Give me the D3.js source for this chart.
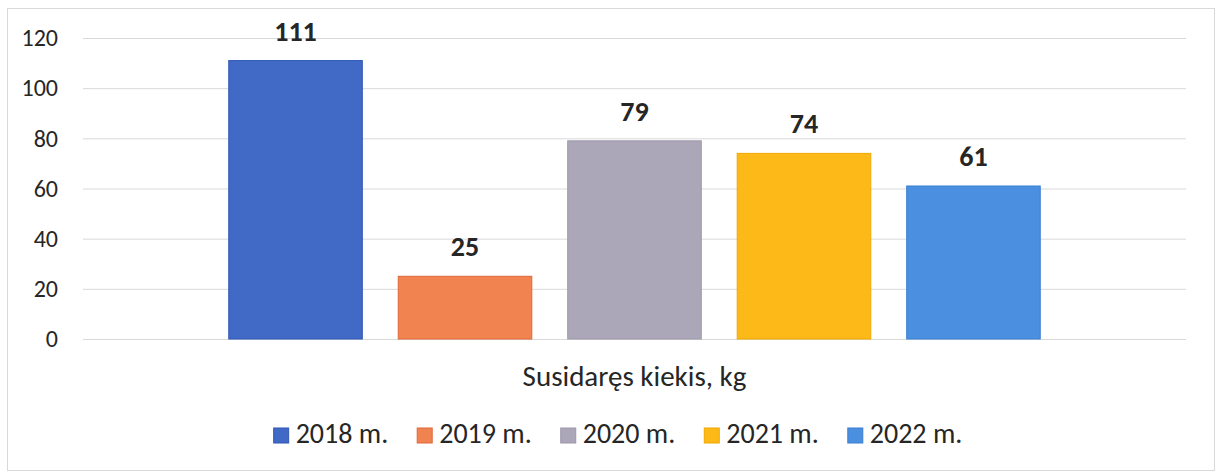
<!DOCTYPE html>
<meta charset="utf-8">
<script src="https://d3js.org/d3.v7.min.js"></script>
<style>
  body { margin: 0; background: #fff; }
  text { font-family: Carlito, Calibri, Lato, sans-serif; fill: #262626; }
</style>
<div id="my_dataviz"></div>
<script>

// data
var categories = ["Susidaręs kiekis, kg"];
var years = ["2018 m.", "2019 m.", "2020 m.", "2021 m.", "2022 m."];
var values = [111, 25, 79, 74, 61];
var yTicks = [0, 20, 40, 60, 80, 100, 120];
var colors = ["#4169c6", "#f0834f", "#aca7b8", "#fdb918", "#4a8fe0"];
var strokes = ["#2f57b5", "#e0673a", "#9c97aa", "#f0a800", "#3b7fd2"];

var W = 1219, H = 473;
var plot = {left: 83, right: 1186, top: 38, bottom: 339};

var svg = d3.select("#my_dataviz")
  .append("svg")
    .attr("width", W)
    .attr("height", H);

// chart border
svg.append("rect")
  .attr("x", 7.5).attr("y", 8.5)
  .attr("width", 1207).attr("height", 462)
  .attr("fill", "#fff")
  .attr("stroke", "#d9d9d9");

// scales
var y = d3.scaleLinear()
  .domain([0, 120])
  .range([plot.bottom, plot.top]);

var x0 = d3.scaleBand()
  .domain(categories)
  .range([plot.left, plot.right]);

var x1 = d3.scaleBand()
  .domain(years)
  .range([0, x0.bandwidth()])
  .paddingInner(0.212)
  .paddingOuter(0.86);

var color = d3.scaleOrdinal().domain(years).range(colors);
var stroke = d3.scaleOrdinal().domain(years).range(strokes);

// gridlines + y labels
var yAxis = svg.append("g")
  .attr("transform", "translate(" + plot.left + ",0)")
  .call(d3.axisLeft(y).tickValues(yTicks).tickSize(-(plot.right - plot.left)).tickPadding(25));
yAxis.select(".domain").remove();
yAxis.selectAll(".tick line").attr("stroke", "#d9d9d9");
yAxis.selectAll(".tick text")
  .style("font-size", "24px")
  .style("font-family", "Carlito, Calibri, Lato, sans-serif")
  .attr("fill", "#262626");

// bars
var rows = years.map(function(yr, i) { return {year: yr, value: values[i]}; });

var grp = svg.append("g")
  .attr("transform", "translate(" + x0(categories[0]) + ",0)");

grp.selectAll("rect")
  .data(rows)
  .enter()
  .append("rect")
    .attr("x", function(d) { return x1(d.year); })
    .attr("y", function(d) { return y(d.value); })
    .attr("width", x1.bandwidth())
    .attr("height", function(d) { return y(0) - y(d.value); })
    .attr("fill", function(d) { return color(d.year); })
    .attr("stroke", function(d) { return stroke(d.year); })
    .attr("stroke-width", 1);

// value labels
grp.selectAll(".lbl")
  .data(rows)
  .enter()
  .append("text")
    .attr("class", "lbl")
    .attr("x", function(d) { return x1(d.year) + x1.bandwidth() / 2; })
    .attr("y", function(d) { return y(d.value) - 20; })
    .attr("text-anchor", "middle")
    .style("font-size", "28px")
    .style("font-weight", "bold")
    .text(function(d) { return d.value; });

// category label
svg.append("text")
  .attr("x", x0(categories[0]) + x0.bandwidth() / 2)
  .attr("y", 386)
  .attr("text-anchor", "middle")
  .style("font-size", "29px")
  .text(categories[0]);

// legend
var legend = svg.append("g");
var items = legend.selectAll("g")
  .data(years)
  .enter()
  .append("g");
items.append("rect")
  .attr("width", 15).attr("height", 15)
  .attr("y", -15)
  .attr("fill", function(d) { return color(d); })
  .attr("stroke", function(d) { return stroke(d); });
items.append("text")
  .attr("x", 22)
  .style("font-size", "28px")
  .text(function(d) { return d; });

var xPos = 0;
items.each(function() {
  var w = this.getBBox().width;
  d3.select(this).attr("transform", "translate(" + xPos + ",0)");
  xPos += w + 29;
});
var total = xPos - 29;
legend.attr("transform", "translate(" + (618 - total / 2) + ",443)");

</script>
